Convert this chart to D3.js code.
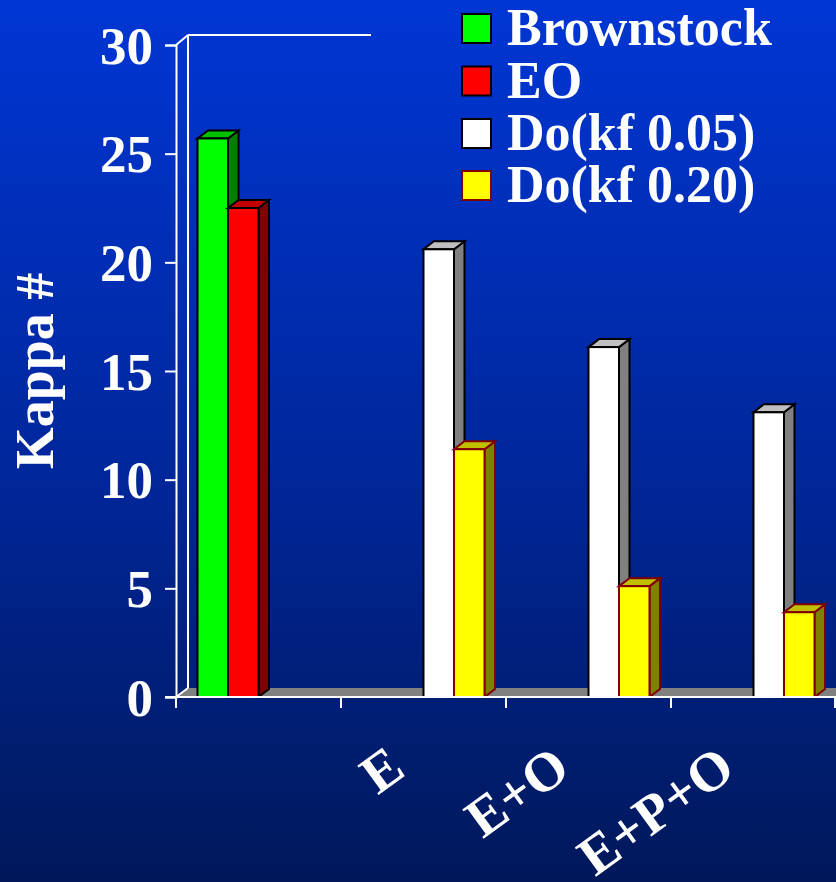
<!DOCTYPE html>
<html>
<head>
<meta charset="utf-8">
<script src="https://cdn.jsdelivr.net/npm/d3@7"></script>
<style>
  html, body { margin: 0; padding: 0; background: #00207a; }
  svg { display: block; }
  text { font-family: "Liberation Serif", "Times New Roman", serif; font-weight: bold; fill: #fff; }
</style>
</head>
<body>
<svg id="chart" width="836" height="882"></svg>
<script>
// Kappa number after each bleaching stage
const categories = ["", "E", "E+O", "E+P+O"];
const seriesNames = ["Brownstock", "EO", "Do(kf 0.05)", "Do(kf 0.20)"];
const brownstock = [25.7, null, null, null];
const eo         = [22.5, null, null, null];
const doKf005    = [null, 20.6, 16.1, 13.1];
const doKf020    = [null, 11.4, 5.1, 3.9];
const yTicks = [0, 5, 10, 15, 20, 25, 30];
const yTitle = "Kappa #";

const seriesValues = [brownstock, eo, doKf005, doKf020];
const palette = [
  { front: "#00ff00", top: "#00c000", side: "#008000", stroke: "#000000" },
  { front: "#ff0000", top: "#c00000", side: "#800000", stroke: "#000000" },
  { front: "#ffffff", top: "#c0c0c0", side: "#808080", stroke: "#000000" },
  { front: "#ffff00", top: "#c0c000", side: "#808000", stroke: "#800000" }
];

const svg = d3.select("#chart");
const W = 836, H = 882;

// background gradient
const defs = svg.append("defs");
const grad = defs.append("linearGradient").attr("id", "bg")
  .attr("x1", 0).attr("y1", 0).attr("x2", 0).attr("y2", 1);
grad.append("stop").attr("offset", "0%").attr("stop-color", "#0036d4");
grad.append("stop").attr("offset", "55%").attr("stop-color", "#002699");
grad.append("stop").attr("offset", "100%").attr("stop-color", "#00185a");
svg.append("rect").attr("width", W).attr("height", H).attr("fill", "url(#bg)");

// scales
const plotLeft = 176, plotRight = 836;
const y = d3.scaleLinear().domain([0, 30]).range([697, 45]);
const x0 = d3.scaleBand().domain(categories).range([plotLeft, plotRight]).paddingInner(0).paddingOuter(0);
const x1 = d3.scaleBand().domain(seriesNames).range([0, x0.bandwidth()]).paddingInner(0).paddingOuter(0.705);

// depth offsets of the 3D look
const wallDx = 12, wallDy = -10;
const barDx = 10.5, barDy = -8;

// floor
const y0 = y(0);
svg.append("polygon")
  .attr("points", [[plotLeft, y0], [plotLeft + wallDx, y0 + wallDy + 1], [W + 20, y0 + wallDy + 1], [W + 20, y0]].join(" "))
  .attr("fill", "#808080");

// back wall edges
const wall = svg.append("g").attr("stroke", "#fff").attr("stroke-width", 2).attr("fill", "none");
wall.append("line").attr("x1", plotLeft + wallDx).attr("x2", plotLeft + wallDx)
  .attr("y1", y(30) + wallDy).attr("y2", y0 + wallDy + 1);
wall.append("line").attr("x1", plotLeft + wallDx).attr("x2", 371)
  .attr("y1", y(30) + wallDy).attr("y2", y(30) + wallDy);
wall.append("line").attr("x1", plotLeft).attr("x2", plotLeft + wallDx)
  .attr("y1", y(30)).attr("y2", y(30) + wallDy);
wall.append("line").attr("x1", plotLeft).attr("x2", plotLeft + wallDx)
  .attr("y1", y0).attr("y2", y0 + wallDy + 1);

// bars
const bars = [];
categories.forEach((c, ci) => {
  seriesNames.forEach((s, si) => {
    const v = seriesValues[si][ci];
    if (v != null) bars.push({ c, s, si, v });
  });
});
const gBars = svg.append("g");
bars.forEach(d => {
  const col = palette[d.si];
  const bx = x0(d.c) + x1(d.s);
  const bw = x1.bandwidth();
  const yt = y(d.v);
  const g = gBars.append("g")
    .attr("stroke", col.stroke).attr("stroke-width", 2).attr("stroke-linejoin", "miter");
  g.append("polygon")
    .attr("points", [[bx + bw, yt], [bx + bw + barDx, yt + barDy], [bx + bw + barDx, y0 + barDy], [bx + bw, y0]].join(" "))
    .attr("fill", col.side);
  g.append("polygon")
    .attr("points", [[bx, yt], [bx + barDx, yt + barDy], [bx + bw + barDx, yt + barDy], [bx + bw, yt]].join(" "))
    .attr("fill", col.top);
  g.append("rect")
    .attr("x", bx).attr("y", yt).attr("width", bw).attr("height", y0 - yt)
    .attr("fill", col.front);
});

// y axis
const yAxis = d3.axisLeft(y).tickValues(yTicks).tickSize(11).tickPadding(12).tickFormat(d3.format("d"));
const gy = svg.append("g").attr("transform", `translate(${plotLeft},0)`).call(yAxis);
gy.select(".domain").attr("stroke", "#fff").attr("stroke-width", 2);
gy.selectAll(".tick line").attr("stroke", "#fff").attr("stroke-width", 2);
gy.selectAll(".tick text")
  .attr("fill", "#fff").attr("font-size", 53)
  .attr("font-family", "'Liberation Serif', 'Times New Roman', serif")
  .attr("font-weight", "bold").attr("dy", "0.34em");

// x axis line and ticks at category boundaries
const gx = svg.append("g").attr("stroke", "#fff").attr("stroke-width", 2);
gx.append("line").attr("x1", plotLeft - 11).attr("x2", W).attr("y1", y0).attr("y2", y0);
const boundaries = categories.map(c => x0(c)).concat([x0.range()[1] - 1]);
gx.selectAll("line.tk").data(boundaries).join("line").attr("class", "tk")
  .attr("x1", d => d).attr("x2", d => d).attr("y1", y0).attr("y2", y0 + 11);

// category labels
svg.append("g").selectAll("text").data(categories.filter(c => c !== "")).join("text")
  .attr("transform", d => `translate(${x0(d) + x0.bandwidth() / 2 - 16},774) rotate(-36)`)
  .attr("text-anchor", "end")
  .attr("font-size", 55)
  .text(d => d);

// y axis title
svg.append("text")
  .attr("transform", "translate(53,371) rotate(-90)")
  .attr("text-anchor", "middle")
  .attr("font-size", 54)
  .text(yTitle);

// legend
const legendY = [45, 97.5, 150, 202];
const lg = svg.append("g");
seriesNames.forEach((s, i) => {
  lg.append("rect")
    .attr("x", 462).attr("y", legendY[i] - 31).attr("width", 29).attr("height", 29)
    .attr("fill", palette[i].front).attr("stroke", palette[i].stroke).attr("stroke-width", 2);
  lg.append("text")
    .attr("x", 507).attr("y", legendY[i])
    .attr("font-size", 52)
    .text(s);
});
</script>
</body>
</html>
